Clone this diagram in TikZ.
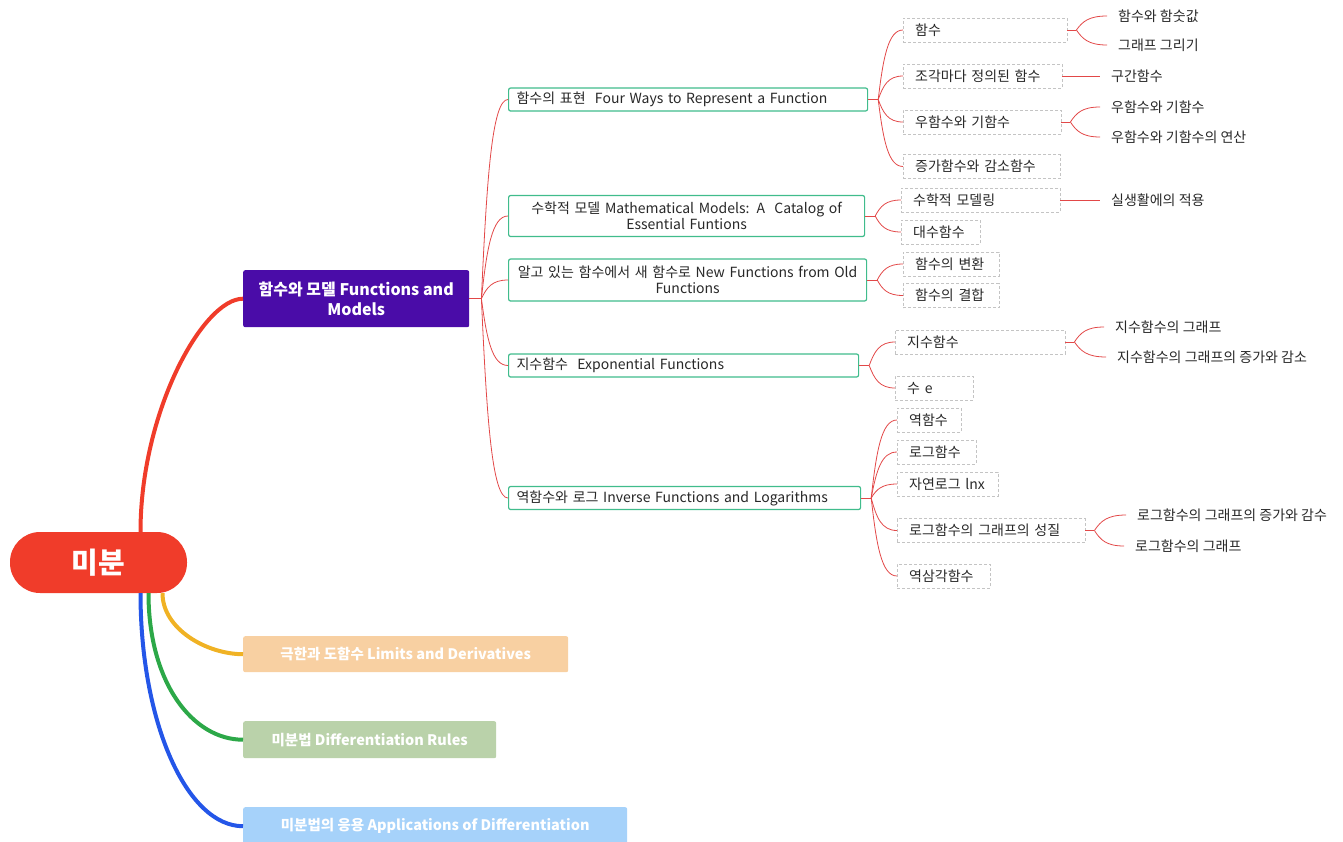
\documentclass[tikz,border=0pt]{standalone}
\usepackage{fontspec}
\setmainfont{Noto Sans CJK KR}
\usetikzlibrary{calc,positioning}

\definecolor{rootred}{RGB}{240,60,42}
\definecolor{topurple}{RGB}{74,12,168}
\definecolor{peach}{RGB}{248,208,162}
\definecolor{sage}{RGB}{186,210,170}
\definecolor{skyblue}{RGB}{166,210,250}
\definecolor{brorange}{RGB}{240,178,36}
\definecolor{brgreen}{RGB}{44,168,72}
\definecolor{brblue}{RGB}{36,86,232}
\definecolor{linkred}{RGB}{226,72,72}
\definecolor{boxgreen}{RGB}{64,188,140}
\definecolor{dashgray}{RGB}{196,196,196}
\definecolor{inkgray}{RGB}{40,40,40}

\tikzset{
  rootnode/.style={fill=rootred, text=white, rounded corners=30pt, minimum width=177pt,
    minimum height=61pt, font=\fontsize{29}{32}\selectfont\bfseries},
  topic/.style={anchor=north west, text=white, rounded corners=2pt, align=center,
    font=\fontsize{14.5}{19}\selectfont\bfseries},
  sect/.style={anchor=west, draw=boxgreen, line width=1.2pt, fill=white, rounded corners=2pt,
    inner xsep=8pt, inner ysep=2pt, minimum height=23pt, text=inkgray, font=\fontsize{14}{16}\selectfont},
  leaf/.style={anchor=west, draw=dashgray, dash pattern=on 3pt off 2pt, inner xsep=12pt,
    inner ysep=2pt, minimum height=24pt, align=left, text=inkgray, font=\fontsize{14}{16}\selectfont},
  note/.style={anchor=west, inner xsep=11pt, text=inkgray, font=\fontsize{14}{16}\selectfont},
  link/.style={draw=linkred, line width=0.8pt},
  branch/.style={line width=4pt},
  fan/.style={to path={let \p1=(\tikztostart), \p2=(\tikztotarget) in
    .. controls (\x1+0.2*\x2-0.2*\x1, \y1+0.6*\y2-0.6*\y1) and (\x1+0.4*\x2-0.4*\x1, \y2) .. (\tikztotarget) \tikztonodes}},
}

\begin{document}
\begin{tikzpicture}[x=1pt, y=-1pt]
\useasboundingbox (0,0) rectangle (1343,841);

% --- root and main topics ---
\node[rootnode] (mibun) at (98.5,562.5) {미분};
\node[topic, fill=topurple, minimum width=226pt, minimum height=57pt,
  font=\fontsize{16}{20}\selectfont\bfseries] (funcs) at (243,270) {함수와 모델 Functions and\\Models};
\node[topic, fill=peach, minimum width=325pt, minimum height=36pt] (limits) at (243,636) {극한과 도함수 Limits and Derivatives};
\node[topic, fill=sage, minimum width=253pt, minimum height=37pt] (rules) at (243,721) {미분법 Differentiation Rules};
\node[topic, fill=skyblue, minimum width=384pt, minimum height=38pt] (apps) at (243,807) {미분법의 응용 Applications of Differentiation};

\draw[branch, rootred] ([xshift=42pt]mibun.north) .. controls +(0,-120) and +(-40,0) .. (funcs.west);
\draw[branch, brorange] ([xshift=64pt]mibun.south) .. controls +(0,36) and +(-36,0) .. (limits.west);
\draw[branch, brgreen] ([xshift=50pt]mibun.south) .. controls +(0,90) and +(-50,0) .. (rules.west);
\draw[branch, brblue] ([xshift=42pt]mibun.south) .. controls +(0,130) and +(-56,0) .. (apps.west);

% --- sections ---
\node[sect, text width=343pt, align=left] (rep) at (508,99.5) {함수의 표현~ Four Ways to Represent a Function};
\node[sect, text width=340pt, align=center, minimum height=41pt] (model) at (508,216) {수학적 모델 Mathematical Models: A~ Catalog of\\Essential Funtions};
\node[sect, text width=342pt, align=center, minimum height=42pt] (newold) at (508,280) {알고 있는 함수에서 새 함수로 New Functions from Old\\Functions};
\node[sect, text width=334pt, align=left] (expo) at (508,365.5) {지수함수~ Exponential Functions};
\node[sect, text width=336pt, align=left] (invlog) at (508,498) {역함수와 로그 Inverse Functions and Logarithms};

\draw[link] (funcs.east) -- ++(12,0) coordinate (jfuncs);
\foreach \t in {rep,model,newold,expo,invlog}
  \draw[link] (jfuncs) to[fan] (\t.west);

% --- topics of each section ---
\node[leaf, text width=140pt] (f1) at (903,30) {함수};
\node[leaf, text width=135pt] (f2) at (903,76) {조각마다 정의된 함수};
\node[leaf, text width=134pt] (f3) at (903,122) {우함수와 기함수};
\node[leaf, text width=133pt] (f4) at (903,166.5) {증가함수와 감소함수};
\node[leaf, text width=135pt] (m1) at (901,200) {수학적 모델링};
\node[leaf, text width=55pt] (m2) at (901,232) {대수함수};
\node[leaf, text width=72pt] (n1) at (903,264) {함수의 변환};
\node[leaf, text width=72pt] (n2) at (903,295.5) {함수의 결합};
\node[leaf, text width=146pt] (e1) at (895,342) {지수함수};
\node[leaf, text width=54pt] (e2) at (895,388) {수 e};
\node[leaf, text width=40pt] (i1) at (897,420) {역함수};
\node[leaf, text width=55pt] (i2) at (897,452) {로그함수};
\node[leaf, text width=77pt] (i3) at (897,484) {자연로그 lnx};
\node[leaf, text width=164pt] (i4) at (897,530.5) {로그함수의 그래프의 성질};
\node[leaf, text width=69pt] (i5) at (897,576) {역삼각함수};

\foreach \p/\kids in {rep/{f1,f2,f3,f4}, model/{m1,m2}, newold/{n1,n2}, expo/{e1,e2}, invlog/{i1,i2,i3,i4,i5}}{
  \draw[link] (\p.east) -- ++(10,0) coordinate (j\p);
  \foreach \k in \kids
    \draw[link] (j\p) to[fan] (\k.west);
}

% --- details ---
\node[note] (f1a) at (1107,16) {함수와 함숫값};
\node[note] (f1b) at (1107,45) {그래프 그리기};
\node[note] (f2a) at (1100,76) {구간함수};
\node[note] (f3a) at (1100,107) {우함수와 기함수};
\node[note] (f3b) at (1100,137) {우함수와 기함수의 연산};
\node[note] (m1a) at (1100,200) {실생활에의 적용};
\node[note] (e1a) at (1104,327) {지수함수의 그래프};
\node[note] (e1b) at (1106,357) {지수함수의 그래프의 증가와 감소};
\node[note] (i4a) at (1126,515) {로그함수의 그래프의 증가와 감수};
\node[note] (i4b) at (1124,546) {로그함수의 그래프};

\foreach \p/\kids in {f1/{f1a,f1b}, f3/{f3a,f3b}, e1/{e1a,e1b}, i4/{i4a,i4b}}{
  \draw[link] (\p.east) -- ++(9,0) coordinate (j\p);
  \foreach \k in \kids
    \draw[link] (j\p) to[fan] (\k.west);
}
\draw[link] (f2.east) -- (f2a.west);
\draw[link] (m1.east) -- (m1a.west);

\end{tikzpicture}
\end{document}
